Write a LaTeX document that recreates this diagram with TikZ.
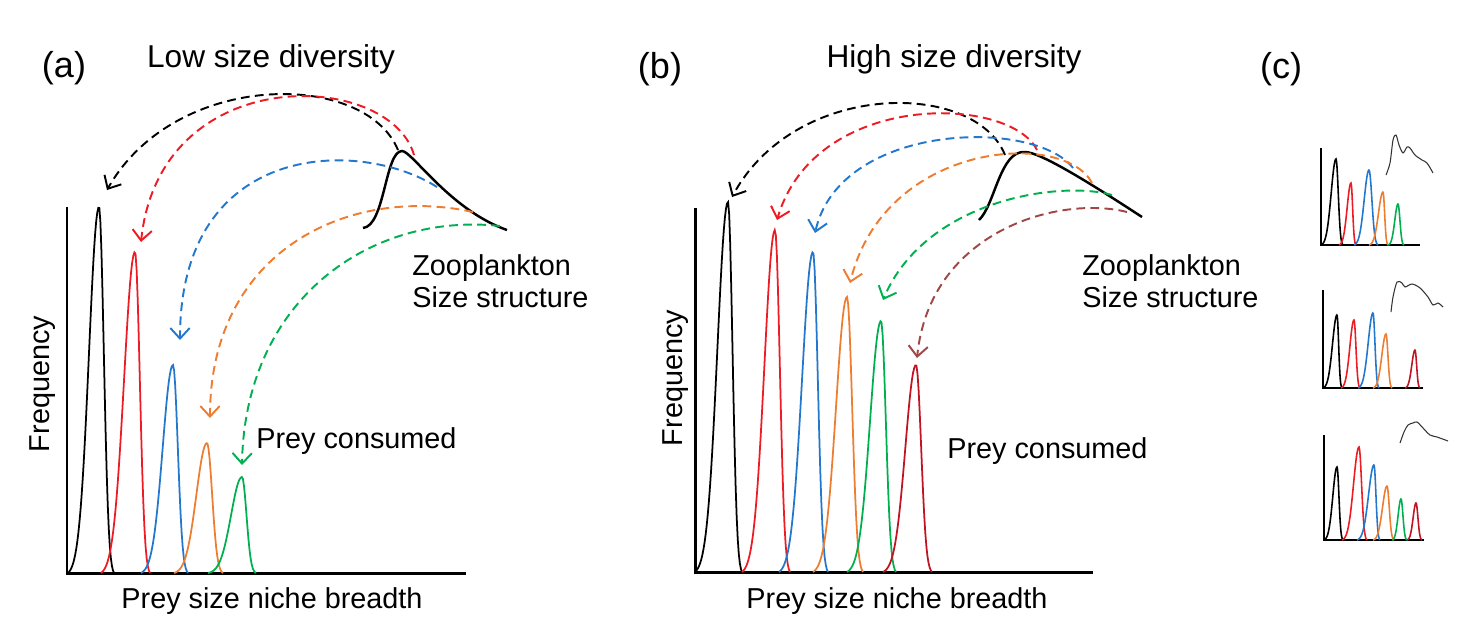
\documentclass[tikz,border=0pt]{standalone}
\usepackage{fontspec}
\setmainfont{Liberation Sans}
\usepackage{tikz}
\usetikzlibrary{arrows.meta}

\definecolor{nred}{RGB}{237,28,36}
\definecolor{nblue}{RGB}{35,120,205}
\definecolor{norange}{RGB}{237,125,49}
\definecolor{ngreen}{RGB}{0,176,80}
\definecolor{ndark}{RGB}{192,20,35}
\definecolor{nbrown}{RGB}{160,70,70}

% one prey size peak: [opts]{colour}{centre}{top}{base}{left}{right}
\newcommand{\niche}[7][line width=1pt]{%
  \draw[#2, #1] plot[domain=#3-#6:#3+#7, samples=45]
    (\x, {#5-(#5-#4)*(exp(0-((\x-#3)/(((\x<#3)?#6:#7)/2.2))^2)-0.0079)/0.9921});}

\begin{document}
\begin{tikzpicture}[x=0.02cm, y=-0.02cm,
  every node/.style={inner sep=0pt},
  axis/.style={line width=1.7pt},
  zoo/.style={line width=1.4pt},
  feed/.style={dash pattern=on 5pt off 3pt, line width=1.1pt, -{Straight Barb[length=6pt,width=11pt]}},
  lbl/.style={font=\fontsize{16.4}{18.2}\selectfont},
  ttl/.style={font=\fontsize{18}{20}\selectfont, anchor=base},
  tag/.style={font=\fontsize{20.5}{22}\selectfont, anchor=base}]
  \useasboundingbox (0,0) rectangle (1467,633);

  % (a) low size diversity
  \node [tag] (tag-a) at (64,77) {(a)};
  \node [ttl] (title-a) at (271,67) {Low size diversity};
  \draw [axis] (67,207) -- (67,573) -- (466,573);
  \niche{black}{99}{207}{573}{31}{15}
  \niche{nred}{135}{252}{573}{34}{15}
  \niche{nblue}{173}{365}{573}{32}{15}
  \niche{norange}{207}{443}{573}{33}{16}
  \niche{ngreen}{242}{477}{573}{34}{14}
  \draw [zoo] (363,228) .. controls (385,226) and (385,151) .. (402,151)
    .. controls (412,151) and (450,210) .. (507,230);
  \coordinate (za-k) at (398,150);
  \coordinate (za-r) at (414,155);
  \coordinate (za-b) at (437,187);
  \coordinate (za-o) at (473,212);
  \coordinate (za-g) at (500,226);
  \coordinate (pa-k) at (107,190);
  \coordinate (pa-r) at (141,242);
  \coordinate (pa-b) at (180,340);
  \coordinate (pa-o) at (210,418);
  \coordinate (pa-g) at (242,465);
  \draw [feed, black] (za-k) .. controls (365,70) and (175,70) .. (pa-k);
  \draw [feed, nred] (za-r) .. controls (390,70) and (160,60) .. (pa-r);
  \draw [feed, nblue] (za-b) .. controls (360,138) and (180,140) .. (pa-b);
  \draw [feed, norange] (za-o) .. controls (350,185) and (210,250) .. (pa-o);
  \draw [feed, ngreen] (za-g) .. controls (370,212) and (245,300) .. (pa-g);
  \node [lbl, anchor=base west, align=left] (zoo-a) at (412,307) {Zooplankton\\Size structure};
  \node [lbl, anchor=base west] (prey-a) at (256,448) {Prey consumed};
  \node [lbl, anchor=base] (xlab-a) at (272,608) {Prey size niche breadth};
  \node [lbl, anchor=base, rotate=90] (ylab-a) at (50,384) {Frequency};

  % (b) high size diversity
  \node [tag] (tag-b) at (660,78) {(b)};
  \node [ttl] (title-b) at (954,67) {High size diversity};
  \draw [axis] (695,208) -- (695,572) -- (1093,572);
  \niche{black}{728}{202}{572}{33}{14}
  \niche{nred}{775}{230}{572}{33}{15}
  \niche{nblue}{813}{252}{572}{34}{15}
  \niche{norange}{847}{297}{572}{34}{16}
  \niche{ngreen}{881}{321}{572}{34}{15}
  \niche{ndark}{916}{365}{572}{33}{16}
  \draw [zoo] (979,220) .. controls (995,205) and (1000,150) .. (1025,152)
    .. controls (1040,152) and (1090,183) .. (1142,217);
  \coordinate (zb-k) at (1005,155);
  \coordinate (zb-r) at (1037,150);
  \coordinate (zb-b) at (1073,168);
  \coordinate (zb-o) at (1092,183);
  \coordinate (zb-g) at (1112,195);
  \coordinate (zb-d) at (1127,212);
  \coordinate (pb-k) at (732,197);
  \coordinate (pb-r) at (777,220);
  \coordinate (pb-b) at (815,233);
  \coordinate (pb-o) at (850,283);
  \coordinate (pb-g) at (883,300);
  \coordinate (pb-d) at (917,358);
  \draw [feed, black] (zb-k) .. controls (975,80) and (795,80) .. (pb-k);
  \draw [feed, nred] (zb-r) .. controls (1010,95) and (815,90) .. (pb-r);
  \draw [feed, nblue] (zb-b) .. controls (1035,118) and (840,122) .. (pb-b);
  \draw [feed, norange] (zb-o) .. controls (1065,130) and (885,140) .. (pb-o);
  \draw [feed, ngreen] (zb-g) .. controls (1060,180) and (925,200) .. (pb-g);
  \draw [feed, nbrown] (zb-d) .. controls (1060,195) and (930,230) .. (pb-d);
  \node [lbl, anchor=base west, align=left] (zoo-b) at (1082,307) {Zooplankton\\Size structure};
  \node [lbl, anchor=base west] (prey-b) at (947,458) {Prey consumed};
  \node [lbl, anchor=base] (xlab-b) at (897,608) {Prey size niche breadth};
  \node [lbl, anchor=base, rotate=90] (ylab-b) at (682,378) {Frequency};

  % (c) three small examples
  \node [tag] (tag-c) at (1281,78) {(c)};
  \draw [line width=1.3pt] (1321,148) -- (1321,245) -- (1420,245);
  \niche[line width=0.9pt]{black}{1336}{159}{245}{15}{7}
  \niche[line width=0.9pt]{nred}{1351}{183}{245}{12}{5}
  \niche[line width=0.9pt]{nblue}{1369}{170}{245}{15}{9}
  \niche[line width=0.9pt]{norange}{1383}{192}{245}{14}{5}
  \niche[line width=0.9pt]{ngreen}{1398}{204}{245}{10}{6}
  \draw [black!80, line width=0.6pt] plot[smooth] coordinates {(1386,175) (1390,163) (1393,140) (1396,135)
    (1399,145) (1403,153) (1407,147) (1410,148) (1415,155) (1422,160) (1427,163) (1433,173)};

  \draw [line width=1.3pt] (1323,290) -- (1323,388) -- (1423,388);
  \niche[line width=0.9pt]{black}{1337}{315}{388}{14}{5}
  \niche[line width=0.9pt]{nred}{1354}{320}{388}{13}{6}
  \niche[line width=0.9pt]{nblue}{1373}{313}{388}{15}{6}
  \niche[line width=0.9pt]{norange}{1386}{334}{388}{13}{6}
  \niche[line width=0.9pt]{ndark}{1415}{350}{388}{10}{5}
  \draw [black!80, line width=0.6pt] plot[smooth] coordinates {(1391,312) (1393,297) (1397,282) (1402,283)
    (1405,287) (1412,284) (1420,288) (1428,297) (1433,305) (1438,303) (1443,307)};

  \draw [line width=1.3pt] (1324,435) -- (1324,540) -- (1424,540);
  \niche[line width=0.9pt]{black}{1337}{467}{540}{13}{6}
  \niche[line width=0.9pt]{nred}{1359}{447}{540}{17}{8}
  \niche[line width=0.9pt]{nblue}{1374}{465}{540}{17}{6}
  \niche[line width=0.9pt]{norange}{1387}{486}{540}{14}{7}
  \niche[line width=0.9pt]{ngreen}{1401}{499}{540}{9}{6}
  \niche[line width=0.9pt]{ndark}{1416}{503}{540}{9}{6}
  \draw [black!80, line width=0.6pt] plot[smooth] coordinates {(1400,443) (1404,432) (1408,425) (1413,423)
    (1417,422) (1423,428) (1430,435) (1437,437) (1448,441)};
\end{tikzpicture}
\end{document}
